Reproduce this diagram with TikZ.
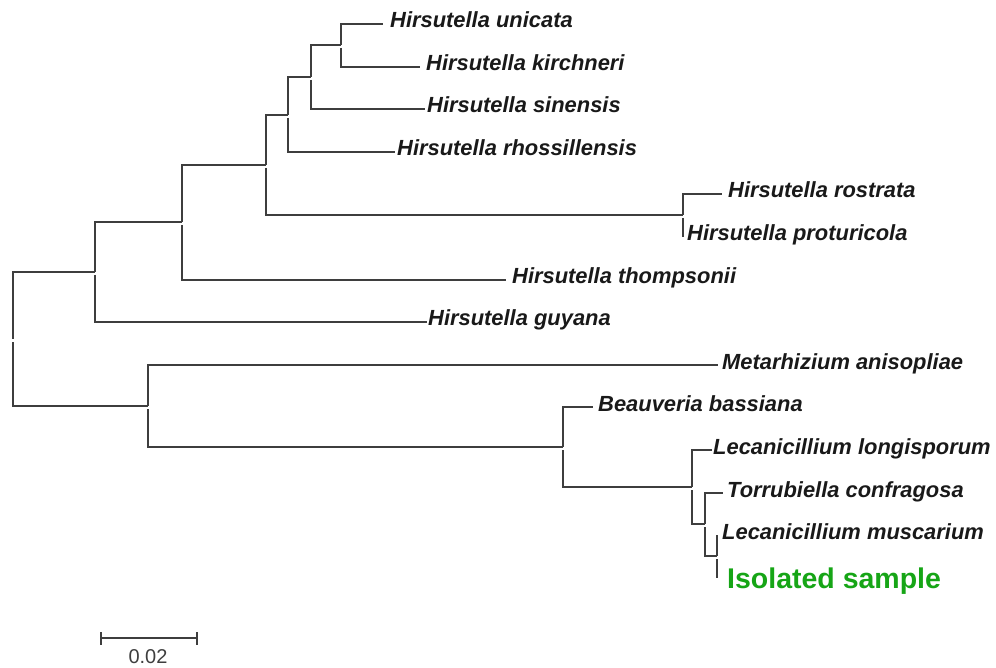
\documentclass[tikz,border=0pt]{standalone}
\usepackage{fontspec}
\setmainfont{Liberation Sans}
\definecolor{branch}{RGB}{62,62,62}
\definecolor{labtext}{RGB}{25,25,25}
\definecolor{isogreen}{RGB}{22,165,22}
\begin{document}
\begin{tikzpicture}[x=1pt,y=-1pt,
  br/.style={line width=2pt, draw=branch},
  lab/.style={anchor=base west, inner sep=0pt, text=labtext,
    font=\fontsize{21.9}{21.9}\selectfont\bfseries\itshape},
  iso/.style={anchor=base west, inner sep=0pt, text=isogreen,
    font=\fontsize{28.5}{28.5}\selectfont\bfseries},
  sblab/.style={anchor=base, inner sep=0pt, text=branch,
    font=\fontsize{20}{20}\selectfont}
]
\useasboundingbox (0,0) rectangle (996,668);

% leaf tips
\coordinate (t1) at (383,24);
\coordinate (t2) at (420,67);
\coordinate (t3) at (425,109);
\coordinate (t4) at (395,152);
\coordinate (t5) at (722,194);
\coordinate (t6) at (683,237);
\coordinate (t7) at (506,280);
\coordinate (t8) at (427,322);
\coordinate (t9) at (718,365);
\coordinate (t10) at (593,407);
\coordinate (t11) at (712,450);
\coordinate (t12) at (723,493);
\coordinate (t13) at (717,535);
\coordinate (t14) at (717,578);

% internal nodes
\coordinate (n1) at (341,45);
\coordinate (n2) at (311,77);
\coordinate (n3) at (288,115);
\coordinate (n4) at (683,215);
\coordinate (n5) at (266,165);
\coordinate (n6) at (182,222);
\coordinate (n7) at (95,272);
\coordinate (n8) at (717,556);
\coordinate (n9) at (705,524);
\coordinate (n10) at (692,487);
\coordinate (n11) at (563,447);
\coordinate (n12) at (148,406);
\coordinate (root) at (13,339);

% labels
\node[lab] (L1) at (390,28) {Hirsutella unicata};
\node[lab] (L2) at (426,71) {Hirsutella kirchneri};
\node[lab] (L3) at (427,113) {Hirsutella sinensis};
\node[lab] (L4) at (397,156) {Hirsutella rhossillensis};
\node[lab] (L5) at (728,198) {Hirsutella rostrata};
\node[lab] (L6) at (687,241) {Hirsutella proturicola};
\node[lab] (L7) at (512,284) {Hirsutella thompsonii};
\node[lab] (L8) at (428,326) {Hirsutella guyana};
\node[lab] (L9) at (722,369) {Metarhizium anisopliae};
\node[lab] (L10) at (598,411) {Beauveria bassiana};
\node[lab] (L11) at (713,454) {Lecanicillium longisporum};
\node[lab] (L12) at (727,497) {Torrubiella confragosa};
\node[lab] (L13) at (722,539) {Lecanicillium muscarium};
\node[iso] (L14) at (727,588) {Isolated sample};

% branches
\draw[br] (n1) |- (t1);  \draw[br] ([yshift=-3pt]n1) |- (t2);
\draw[br] (n2) |- (n1);  \draw[br] ([yshift=-3pt]n2) |- (t3);
\draw[br] (n3) |- (n2);  \draw[br] ([yshift=-3pt]n3) |- (t4);
\draw[br] (n4) |- (t5);  \draw[br] ([yshift=-3pt]n4) |- (t6);
\draw[br] (n5) |- (n3);  \draw[br] ([yshift=-3pt]n5) |- (n4);
\draw[br] (n6) |- (n5);  \draw[br] ([yshift=-3pt]n6) |- (t7);
\draw[br] (n7) |- (n6);  \draw[br] ([yshift=-3pt]n7) |- (t8);
\draw[br] (n8) |- (t13); \draw[br] ([yshift=-3pt]n8) |- (t14);
\draw[br] (n9) |- (t12); \draw[br] ([yshift=-3pt]n9) |- (n8);
\draw[br] (n10) |- (t11); \draw[br] ([yshift=-3pt]n10) |- (n9);
\draw[br] (n11) |- (t10); \draw[br] ([yshift=-3pt]n11) |- (n10);
\draw[br] (n12) |- (t9);  \draw[br] ([yshift=-3pt]n12) |- (n11);
\draw[br] (root) |- (n7); \draw[br] ([yshift=-3pt]root) |- (n12);

% scale bar
\coordinate (sb1) at (101,638);
\coordinate (sb2) at (197,638);
\draw[br] (sb1) -- (sb2);
\draw[br] ([yshift=6pt]sb1) -- ([yshift=-7pt]sb1);
\draw[br] ([yshift=6pt]sb2) -- ([yshift=-7pt]sb2);
\node[sblab] (sbl) at (148,663) {0.02};
\end{tikzpicture}
\end{document}
